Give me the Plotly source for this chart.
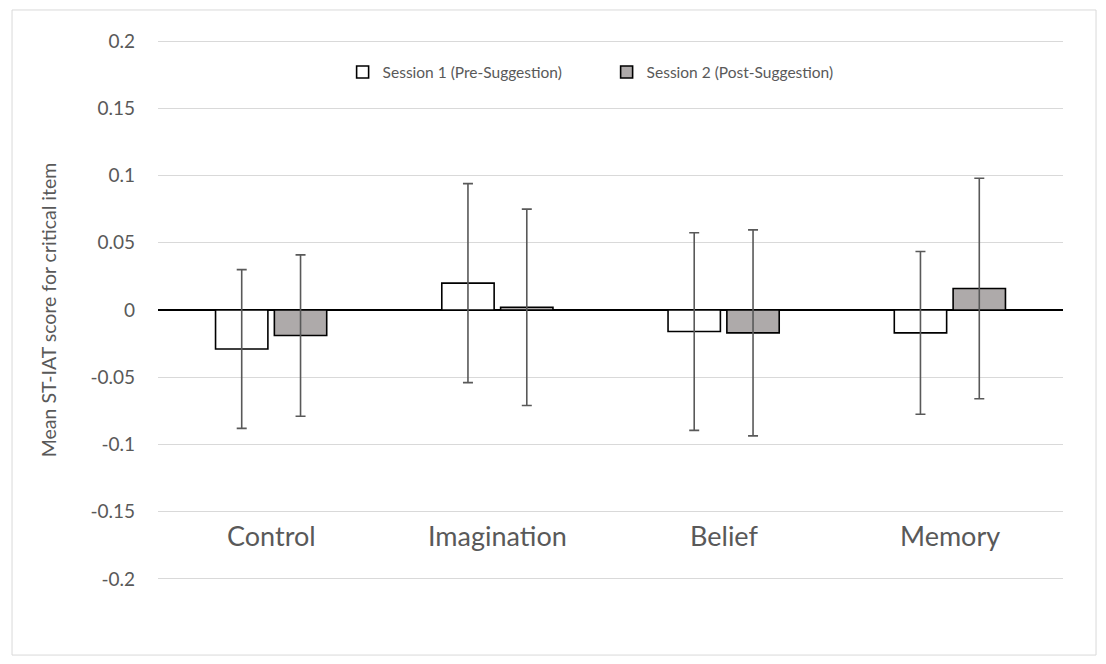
import plotly.graph_objects as go

categories = ["Control", "Imagination", "Belief", "Memory"]
session1 = [-0.029, 0.020, -0.016, -0.017]
session2 = [-0.019, 0.002, -0.017, 0.016]
err1 = [0.059, 0.074, 0.0735, 0.0605]
err2 = [0.060, 0.073, 0.0766, 0.082]
names = ["Session 1 (Pre-Suggestion)", "Session 2 (Post-Suggestion)"]
tick_vals = [-0.2, -0.15, -0.1, -0.05, 0, 0.05, 0.1, 0.15, 0.2]
tick_text = ["-0.2", "-0.15", "-0.1", "-0.05", "0", "0.05", "0.1", "0.15", "0.2"]

FONT = "Lato"
GREY = "#595959"

fig = go.Figure()
for vals, errs, name, fill in [(session1, err1, names[0], "#FFFFFF"),
                               (session2, err2, names[1], "#AEAAAA")]:
    fig.add_trace(go.Bar(
        x=categories, y=vals, name=name,
        marker=dict(color=fill, line=dict(color="#000000", width=1.6)),
        error_y=dict(type="data", array=errs, visible=True,
                     color=GREY, thickness=1.6, width=5),
    ))

for c in categories:
    fig.add_annotation(x=c, y=-0.168, text=c, showarrow=False,
                       font=dict(family=FONT, size=27, color=GREY),
                       xref="x", yref="y")

fig.add_shape(type="rect", xref="paper", yref="paper",
              x0=-0.1613, x1=1.0365, y0=-0.139, y1=1.0556,
              line=dict(color="#D9D9D9", width=1), layer="below")

fig.update_layout(
    width=1106, height=664,
    margin=dict(l=158, r=43, t=40, b=84),
    paper_bgcolor="white", plot_bgcolor="white",
    barmode="group", bargap=0.48, bargroupgap=0.11,
    font=dict(family=FONT, color=GREY),
    legend=dict(orientation="h", x=0.204, y=0.94, xanchor="left", yanchor="middle",
                font=dict(family=FONT, size=15.5, color=GREY),
                entrywidth=219, entrywidthmode="pixels",
                itemwidth=30, bgcolor="rgba(0,0,0,0)", traceorder="normal"),
    showlegend=True,
)
fig.update_xaxes(showticklabels=False, showgrid=False, zeroline=False,
                 showline=False, ticks="")
fig.update_yaxes(range=[-0.2008, 0.2008], tickvals=tick_vals, ticktext=tick_text,
                 showgrid=True, gridcolor="#D9D9D9", gridwidth=1,
                 zeroline=True, zerolinecolor="#000000", zerolinewidth=1.6,
                 showline=False, ticks="", ticklabelstandoff=22,
                 tickfont=dict(family=FONT, size=19, color=GREY),
                 title=dict(text="Mean ST-IAT score for critical item",
                            font=dict(family=FONT, size=19.5, color=GREY), standoff=28))

fig.write_html("out.html")
